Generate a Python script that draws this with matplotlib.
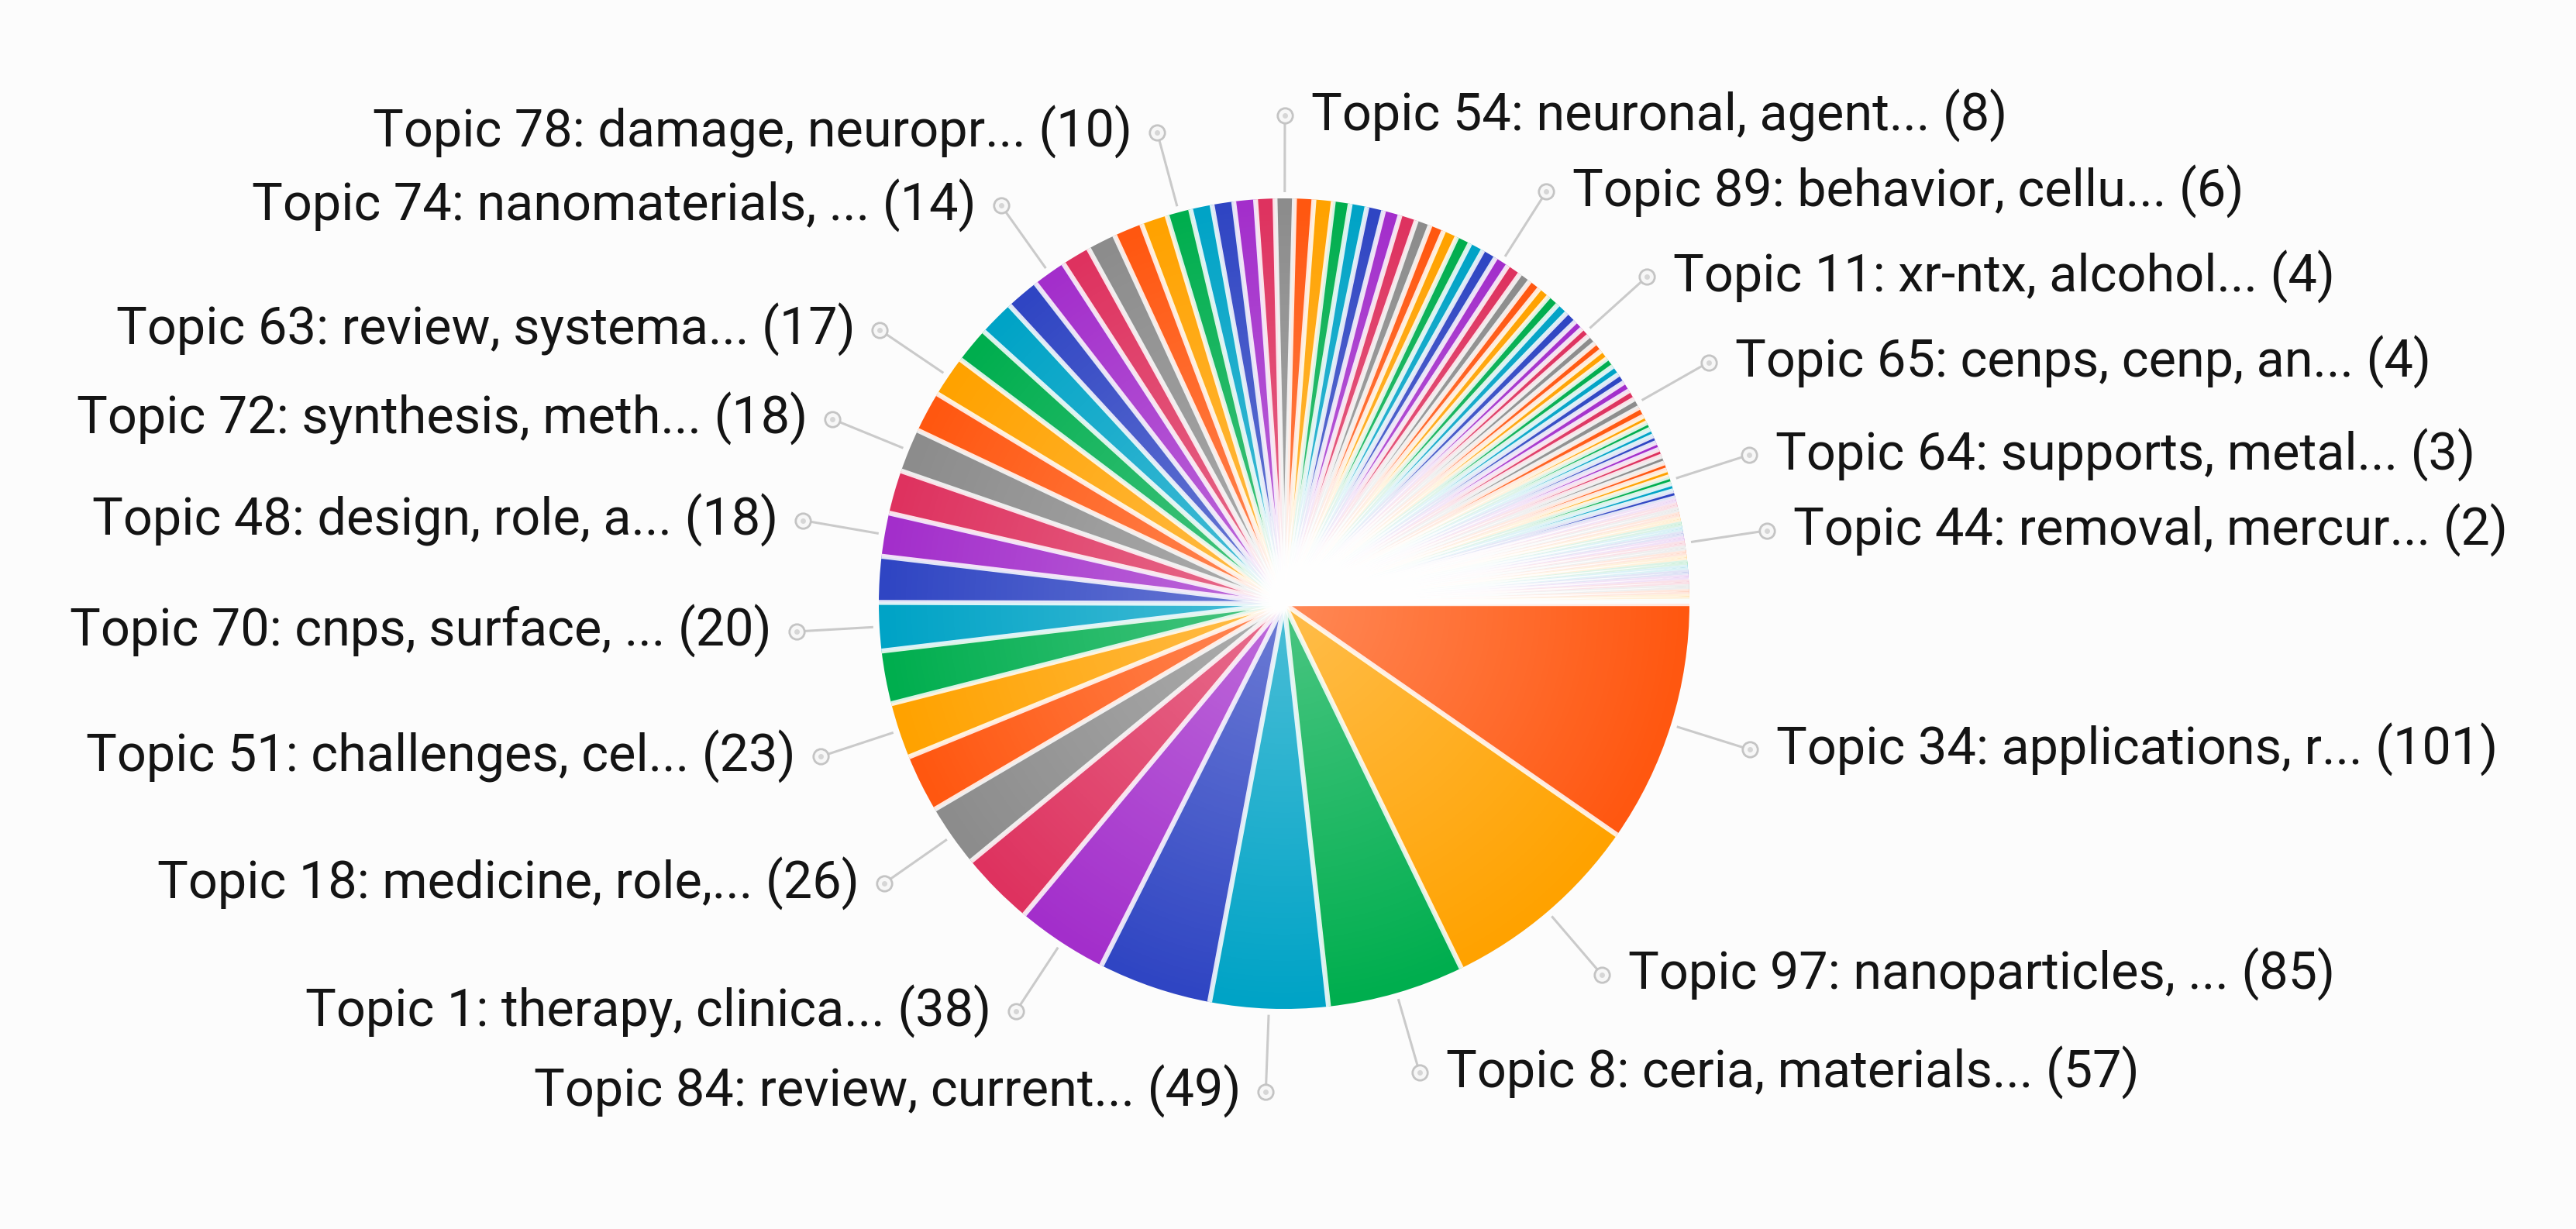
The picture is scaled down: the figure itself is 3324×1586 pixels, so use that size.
import numpy as np
import matplotlib
matplotlib.use('Agg')
import matplotlib.pyplot as plt
from matplotlib.patches import Circle

# slice sizes, in the order they are drawn (clockwise from 3 o'clock)
values = [101, 85, 57, 49, 47, 38, 31, 26, 24, 23, 22, 20,
          19, 18, 18, 18, 17, 17, 15, 15, 14, 14, 12, 12, 12, 11, 10, 9, 9, 9, 8,
          8,
          8, 8, 7, 7, 7, 7, 7, 6, 6, 6, 6, 6, 6,
          6,
          6, 5, 5, 5, 5, 5, 5, 4,
          4,
          4, 4, 4, 4, 4, 4, 4, 4,
          4,
          4, 3, 3, 3, 3, 3, 3, 3, 3, 3,
          3,
          3, 3, 2, 2, 2, 2, 2, 2, 2, 2, 2,
          2,
          2, 2, 2, 2, 2, 2, 2, 2, 2, 2, 2, 1, 1]

# only these slices carry a visible label
label_index = [0, 1, 2, 3, 5, 7, 9, 11, 13, 15, 17, 21, 26, 31, 45, 54, 63, 74, 86]
label_names = ["Topic 34: applications, r...", "Topic 97: nanoparticles, ...",
               "Topic 8: ceria, materials...", "Topic 84: review, current...",
               "Topic 1: therapy, clinica...", "Topic 18: medicine, role,...",
               "Topic 51: challenges, cel...", "Topic 70: cnps, surface, ...",
               "Topic 48: design, role, a...", "Topic 72: synthesis, meth...",
               "Topic 63: review, systema...", "Topic 74: nanomaterials, ...",
               "Topic 78: damage, neuropr...", "Topic 54: neuronal, agent...",
               "Topic 89: behavior, cellu...", "Topic 11: xr-ntx, alcohol...",
               "Topic 65: cenps, cenp, an...", "Topic 64: supports, metal...",
               "Topic 44: removal, mercur..."]

palette = ['#FF5710', '#FFA200', '#00AE4E', '#00A3C6',
           '#2F45C3', '#A32ECB', '#DE325F', '#8C8C8C']
bg = '#FCFCFC'

W, H = 3324, 1586
cx, cy, r = 1657, H - 779, 523

fig = plt.figure(figsize=(W / 200, H / 200), dpi=200, facecolor=bg)
ax = fig.add_axes([0, 0, 1, 1])
ax.set_facecolor(bg)

colors = [palette[i % len(palette)] for i in range(len(values))]
wedges, _ = ax.pie(values, colors=colors, startangle=0, counterclock=False,
                   radius=r, center=(cx, cy), frame=True,
                   wedgeprops=dict(linewidth=0, edgecolor='none', zorder=1))

# soft light in the middle of the pie
n = 600
yy, xx = np.mgrid[-1:1:n * 1j, -1:1:n * 1j]
d = np.hypot(xx, yy)
img = np.ones((n, n, 4))
img[..., 3] = 0.30 * np.clip(1 - d, 0, 1)
im = ax.imshow(img, extent=(cx - r, cx + r, cy - r, cy + r), origin='lower',
               zorder=2, interpolation='bilinear')
im.set_clip_path(Circle((cx, cy), r, transform=ax.transData))

# white seams between the slices
for w in wedges:
    t = np.deg2rad(w.theta1)
    ax.plot([cx, cx + r * np.cos(t)], [cy, cy + r * np.sin(t)], color='white',
            lw=2.3, alpha=0.86, solid_capstyle='butt', zorder=3)

for idx, name in zip(label_index, label_names):
    w = wedges[idx]
    mid = np.deg2rad((w.theta1 + w.theta2) / 2)
    c, s = np.cos(mid), np.sin(mid)
    x0, y0 = cx + (r + 8) * c, cy + (r + 8) * s
    x1, y1 = cx + (r + 107) * c, cy + (r + 107) * s
    ax.plot([x0, x1], [y0, y1], color='#CACACA', lw=1.1, zorder=4,
            solid_capstyle='butt')
    ax.plot(x1, y1, 'o', ms=7, mfc='#F7F7F7', mec='#C4C4C4', mew=1.0, zorder=5)
    ax.plot(x1, y1, 'o', ms=2.5, mfc='#D6D6D6', mec='none', zorder=6)
    right = c >= 0
    ax.text(x1 + (34 if right else -32), y1, '{} ({})'.format(name, values[idx]),
            ha='left' if right else 'right', va='center', fontsize=24,
            color='#141414', family='Roboto')

ax.set_xlim(0, W)
ax.set_ylim(0, H)
ax.set_aspect('auto')
ax.axis('off')

fig.savefig('out.png', dpi=200, facecolor=bg)
